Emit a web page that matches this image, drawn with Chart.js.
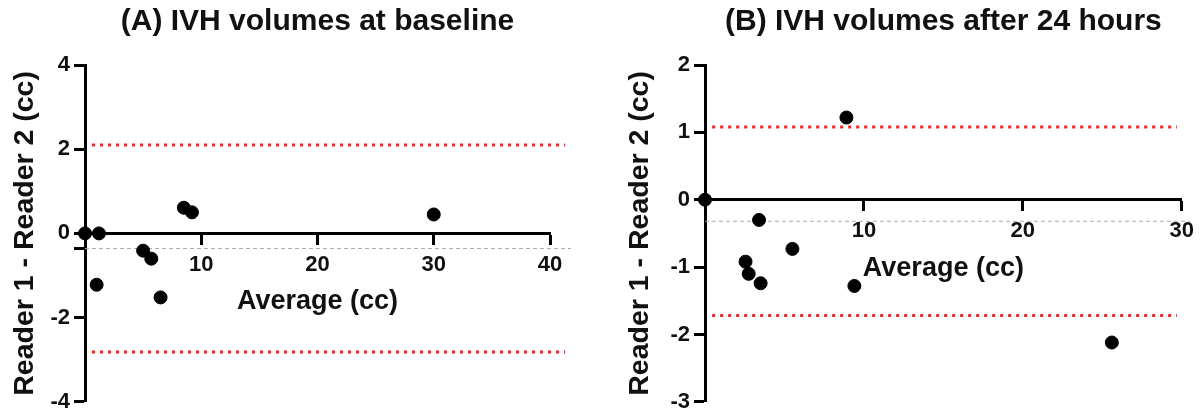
<!DOCTYPE html>
<html>
<head>
<meta charset="utf-8">
<title>IVH volumes - reader agreement</title>
<script src="https://cdn.jsdelivr.net/npm/chart.js@4.4.1/dist/chart.umd.min.js"></script>
<style>
  body { margin: 0; background: #fff; }
  .panel { position: absolute; top: 0; height: 419px; }
  #panelA { left: 0; width: 600px; }
  #panelB { left: 600px; width: 602px; }
</style>
</head>
<body>
<div class="panel" id="panelA"><canvas id="chartA" width="600" height="419"></canvas></div>
<div class="panel" id="panelB"><canvas id="chartB" width="602" height="419"></canvas></div>
<script>
// (A) baseline: average vs difference between readers
const avgA = [0, 1.2, 1.0, 5.0, 5.7, 6.5, 8.5, 9.2, 30];
const diffA = [0, 0, -1.22, -0.41, -0.60, -1.52, 0.61, 0.50, 0.45];
const upperA = 2.1;
const biasA = -0.36;
const lowerA = -2.82;
const xTicksA = [0, 10, 20, 30, 40];
const yTicksA = [-4, -2, 0, 2, 4];

// (B) after 24 hours
const avgB = [0, 8.9, 3.4, 5.5, 2.55, 2.75, 3.5, 9.4, 25.6];
const diffB = [0, 1.22, -0.30, -0.73, -0.92, -1.10, -1.24, -1.28, -2.12];
const upperB = 1.08;
const biasB = -0.32;
const lowerB = -1.72;
const xTicksB = [0, 10, 20, 30];
const yTicksB = [-3, -2, -1, 0, 1, 2];

Chart.defaults.font.family = '"Liberation Sans", Arial, sans-serif';
Chart.defaults.color = '#111';

function hLine(y, x0, x1) {
  return [{ x: x0, y: y }, { x: x1, y: y }];
}

function buildChart(id, p) {
  const points = p.avg.map((x, i) => ({ x: x, y: p.diff[i] }));
  const yMarks = p.yTicks.concat(p.extraY);

  return new Chart(document.getElementById(id), {
    type: 'scatter',
    data: {
      datasets: [
        {
          data: points,
          backgroundColor: '#000',
          borderColor: '#000',
          pointRadius: 6.5,
          pointHoverRadius: 6.5,
          clip: false
        },
        {
          type: 'line',
          data: hLine(p.upper, p.redFrom, p.redTo),
          borderColor: '#ff2020',
          borderWidth: 3,
          borderDash: [3, 5],
          pointRadius: 0,
          clip: false
        },
        {
          type: 'line',
          data: hLine(p.lower, p.redFrom, p.redTo),
          borderColor: '#ff2020',
          borderWidth: 3,
          borderDash: [3, 5],
          pointRadius: 0,
          clip: false
        },
        {
          type: 'line',
          data: hLine(p.bias, 0, p.grayTo),
          borderColor: '#aaaaaa',
          borderWidth: 1,
          borderDash: [4, 3],
          pointRadius: 0,
          clip: false
        }
      ]
    },
    options: {
      responsive: false,
      animation: false,
      events: [],
      layout: { padding: { left: 0, right: p.padRight, top: 0, bottom: 12 } },
      plugins: {
        legend: { display: false },
        tooltip: { enabled: false },
        title: {
          display: true,
          text: p.title,
          fullSize: false,
          color: '#111',
          font: { size: 30, weight: 'bold' },
          padding: { top: 4, bottom: 25 }
        }
      },
      scales: {
        x: {
          type: 'linear',
          min: 0,
          max: p.xTicks[p.xTicks.length - 1],
          position: { y: 0 },
          afterBuildTicks: (s) => { s.ticks = p.xTicks.map(v => ({ value: v })); },
          ticks: {
            color: '#111',
            font: { size: 22, weight: 'bold' },
            padding: 8,
            maxRotation: 0,
            callback: (v) => (v === 0 ? '' : v)
          },
          grid: { drawOnChartArea: false, color: '#000', tickLength: 10, tickWidth: 3 },
          border: { color: '#000', width: 3 },
          title: {
            display: true,
            text: 'Average (cc)',
            color: '#111',
            font: { size: 27, weight: 'bold' },
            padding: { top: 0, bottom: 0 }
          }
        },
        y: {
          type: 'linear',
          min: p.yTicks[0],
          max: p.yTicks[p.yTicks.length - 1],
          afterBuildTicks: (s) => { s.ticks = yMarks.map(v => ({ value: v })); },
          afterFit: (s) => { s.width = p.yAxisWidth; },
          ticks: {
            color: '#111',
            font: { size: 22, weight: 'bold' },
            padding: 4,
            callback: (v) => (p.yTicks.includes(v) ? v : '')
          },
          grid: { drawOnChartArea: false, color: '#000', tickLength: 11, tickWidth: 3 },
          border: { color: '#000', width: 3 },
          title: {
            display: true,
            text: 'Reader 1 - Reader 2 (cc)',
            color: '#111',
            font: { size: 28.5, weight: 'bold' },
            padding: { top: p.yTitlePad, bottom: 0 }
          }
        }
      }
    }
  });
}

buildChart('chartA', {
  title: '(A) IVH volumes at baseline',
  avg: avgA, diff: diffA,
  upper: upperA, bias: biasA, lower: lowerA,
  xTicks: xTicksA, yTicks: yTicksA, extraY: [biasA],
  redFrom: 0.6, redTo: 41.3, grayTo: 41.8,
  yAxisWidth: 85, yTitlePad: 8, padRight: 50
});

buildChart('chartB', {
  title: '(B) IVH volumes after 24 hours',
  avg: avgB, diff: diffB,
  upper: upperB, bias: biasB, lower: lowerB,
  xTicks: xTicksB, yTicks: yTicksB, extraY: [],
  redFrom: 0.45, redTo: 29.7, grayTo: 30.5,
  yAxisWidth: 105, yTitlePad: 23, padRight: 13
});
</script>
</body>
</html>
